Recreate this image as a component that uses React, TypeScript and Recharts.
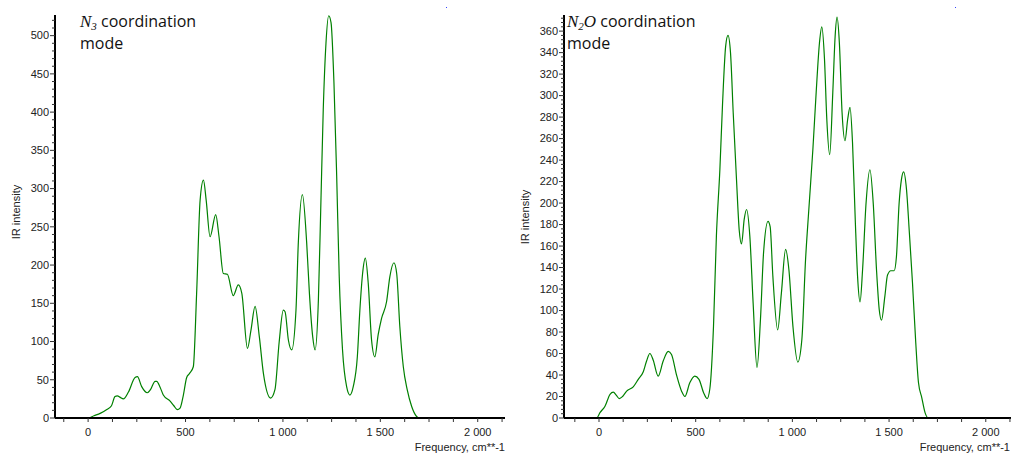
import { Line, LineChart, XAxis, YAxis } from "recharts";

// N3 coordination mode spectrum (cm-1 / IR intensity)
const n3Freq = [
  -170, 0, 30, 62, 96, 120, 138, 150, 165, 181, 207, 241, 253, 275, 304, 320,
  344, 352, 370, 386, 421, 440, 458, 472, 489, 506, 520, 540, 557, 575, 592,
  606, 626, 655, 672, 694, 715, 745, 771, 789, 818, 836, 857, 879, 900, 937,
  959, 981, 1002, 1011, 1028, 1045, 1067, 1079, 1100, 1122, 1136, 1153, 1165,
  1182, 1194, 1207, 1221, 1235, 1247, 1262, 1276, 1289, 1306, 1327, 1344, 1361,
  1382, 1395, 1409, 1423, 1438, 1455, 1472, 1489, 1506, 1532, 1549, 1570, 1584,
  1600, 1618, 1638, 1661, 1686, 1700, 2140,
];
const n3Intensity = [
  0, 0, 3, 6, 11, 16, 28, 29, 27, 25, 34, 53, 54, 41, 33, 37,
  48, 48, 40, 30, 22, 16, 11, 13, 30, 53, 58, 67, 163, 285, 311,
  285, 237, 266, 237, 189, 188, 160, 174, 163, 91, 115, 146, 106, 58, 26,
  37, 100, 141, 139, 102, 89, 141, 229, 292, 229, 163, 106, 89,
  154, 272, 403, 490, 526, 517, 438, 316, 185, 89, 41, 30, 41,
  80, 141, 189, 209, 176, 102, 80, 109, 130, 152, 185, 203, 189,
  120, 67, 37, 15, 2, 0, 0,
];

// N2O coordination mode spectrum
const n2oFreq = [
  -181, -12, 5, 31, 57, 74, 90, 105, 122, 143, 177, 203, 229, 246, 263, 280,
  306, 332, 358, 375, 401, 427, 444, 470, 495, 517, 542, 559, 573, 592, 607,
  625, 639, 655, 667, 680, 694, 711, 725, 737, 751, 763, 780, 797, 817, 835,
  851, 874, 885, 899, 924, 943, 965, 982, 1003, 1028, 1049, 1068, 1085, 1106,
  1123, 1140, 1152, 1166, 1178, 1193, 1209, 1221, 1231, 1243, 1257, 1272, 1286,
  1298, 1311, 1325, 1337, 1350, 1363, 1381, 1401, 1418, 1435, 1449, 1461, 1478,
  1492, 1509, 1526, 1538, 1552, 1564, 1575, 1590, 1604, 1621, 1638, 1652, 1669,
  1686, 1703, 2146,
];
const n2oIntensity = [
  0, 0, 5, 11, 22, 24, 21, 18, 20, 25, 29, 36, 43, 53, 60, 54,
  39, 53, 62, 59, 40, 25, 20, 33, 39, 36, 23, 18, 27, 85, 169,
  231, 293, 346, 356, 340, 284, 222, 175, 162, 185, 194, 169, 107, 47, 92,
  154, 183, 178, 132, 82, 116, 157, 138, 85, 52, 73, 147, 194, 250,
  303, 349, 364, 334, 278, 245, 303, 355, 373, 349, 284, 258, 278,
  289, 256, 185, 132, 108, 138, 200, 231, 200, 138, 101, 91, 113,
  133, 137, 137, 150, 200, 222, 229, 213, 175, 126, 70, 33, 19,
  5, 0, 0,
];

const xTickLabels: Record<number, string> = {
  0: "0",
  500: "500",
  1000: "1 000",
  1500: "1 500",
  2000: "2 000",
};

const range = (from: number, to: number, step: number) => {
  const out: number[] = [];
  for (let v = from; v <= to; v += step) out.push(v);
  return out;
};

const xTicks = range(-125, 2125, 125);
const n3YTicks = range(0, 520, 10);
const n2oYTicks = range(0, 372, 4);

const labelFont = "'Liberation Sans', Arial, sans-serif";

const XTick = ({ x, y, payload }: any) => {
  const v = payload.value;
  const label = xTickLabels[v];
  return (
    <g>
      <line x1={x} x2={x} y1={y} y2={y + 4} stroke="#333" strokeWidth={1} />
      {label !== undefined && (
        <text x={x} y={y + 17.5} textAnchor="middle" fontSize={11} fontFamily={labelFont} fill="#222">
          {label}
        </text>
      )}
    </g>
  );
};

const makeYTick = (majorStep: number) => ({ x, y, payload }: any) => {
  const major = payload.value % majorStep === 0;
  return (
    <g>
      <line x1={x - (major ? 5 : 3)} x2={x} y1={y} y2={y} stroke="#333" strokeWidth={1} />
      {major && (
        <text x={x - 6} y={y} dy="0.35em" textAnchor="end" fontSize={11} fontFamily={labelFont} fill="#222">
          {payload.value}
        </text>
      )}
    </g>
  );
};

function Spectrum({
  freq,
  intensity,
  xDomain,
  yMax,
  yTicks,
  yMajor,
}: {
  freq: number[];
  intensity: number[];
  xDomain: [number, number];
  yMax: number;
  yTicks: number[];
  yMajor: number;
}) {
  const data = freq.map((f, i) => ({ f, v: intensity[i] }));
  return (
    <LineChart width={506} height={455} data={data} margin={{ top: 15, right: 1, bottom: 0, left: 0 }}>
      <XAxis
        dataKey="f"
        type="number"
        domain={xDomain}
        ticks={xTicks}
        interval={0}
        tickSize={0}
        tickMargin={0}
        tickLine={false}
        tick={XTick}
        height={37}
        axisLine={{ stroke: "#000", strokeWidth: 2 }}
      />
      <YAxis
        type="number"
        domain={[0, yMax]}
        ticks={yTicks}
        interval={0}
        tickSize={0}
        tickMargin={0}
        tickLine={false}
        tick={makeYTick(yMajor)}
        width={55}
        axisLine={{ stroke: "#000", strokeWidth: 2 }}
      />
      <Line
        dataKey="v"
        type="monotone"
        stroke="#008000"
        strokeWidth={1.2}
        dot={false}
        activeDot={false}
        isAnimationActive={false}
      />
    </LineChart>
  );
}

const titleFont = "'Open Sans', sans-serif";
const serif = "'Liberation Serif', 'Times New Roman', serif";

export default function App() {
  return (
    <div
      style={{
        position: "fixed",
        left: 0,
        top: 0,
        width: 1011,
        height: 455,
        overflow: "hidden",
        background: "#fff",
      }}
    >
      <div style={{ position: "absolute", left: 0, top: 0 }}>
        <Spectrum
          freq={n3Freq}
          intensity={n3Intensity}
          xDomain={[-170, 2140]}
          yMax={527}
          yTicks={n3YTicks}
          yMajor={50}
        />
      </div>
      <div style={{ position: "absolute", left: 509, top: 0 }}>
        <Spectrum
          freq={n2oFreq}
          intensity={n2oIntensity}
          xDomain={[-181, 2146]}
          yMax={375}
          yTicks={n2oYTicks}
          yMajor={20}
        />
      </div>
      <svg
        width={1011}
        height={455}
        style={{ position: "absolute", left: 0, top: 0, pointerEvents: "none" }}
      >
        <text x={80} y={27} fontSize={16} fontFamily={titleFont} fill="#111">
          <tspan fontFamily={serif} fontStyle="italic" fontSize={17}>N</tspan>
          <tspan fontFamily={serif} fontStyle="italic" fontSize={11} dy={3}>3</tspan>
          <tspan dy={-3}> coordination</tspan>
        </text>
        <text x={80} y={49} fontSize={16} fontFamily={titleFont} fill="#111">
          mode
        </text>
        <text x={567} y={27} fontSize={16} fontFamily={titleFont} fill="#111">
          <tspan fontFamily={serif} fontStyle="italic" fontSize={17}>N</tspan>
          <tspan fontFamily={serif} fontStyle="italic" fontSize={11} dy={3}>2</tspan>
          <tspan fontFamily={serif} fontStyle="italic" fontSize={17} dy={-3}>O</tspan>
          <tspan> coordination</tspan>
        </text>
        <text x={567} y={49} fontSize={16} fontFamily={titleFont} fill="#111">
          mode
        </text>
        <text
          transform="translate(19.5,212) rotate(-90)"
          textAnchor="middle"
          fontSize={11}
          fontFamily={labelFont}
          fill="#222"
        >
          IR intensity
        </text>
        <text
          transform="translate(528.5,217) rotate(-90)"
          textAnchor="middle"
          fontSize={11}
          fontFamily={labelFont}
          fill="#222"
        >
          IR intensity
        </text>
        <text x={505} y={451} textAnchor="end" fontSize={11} fontFamily={labelFont} fill="#222">
          Frequency, cm**-1
        </text>
        <text x={1010} y={451} textAnchor="end" fontSize={11} fontFamily={labelFont} fill="#222">
          Frequency, cm**-1
        </text>
        <rect x={446} y={7} width={1} height={1} fill="#3344ff" />
        <rect x={955} y={7} width={1} height={1} fill="#3344ff" />
      </svg>
    </div>
  );
}
